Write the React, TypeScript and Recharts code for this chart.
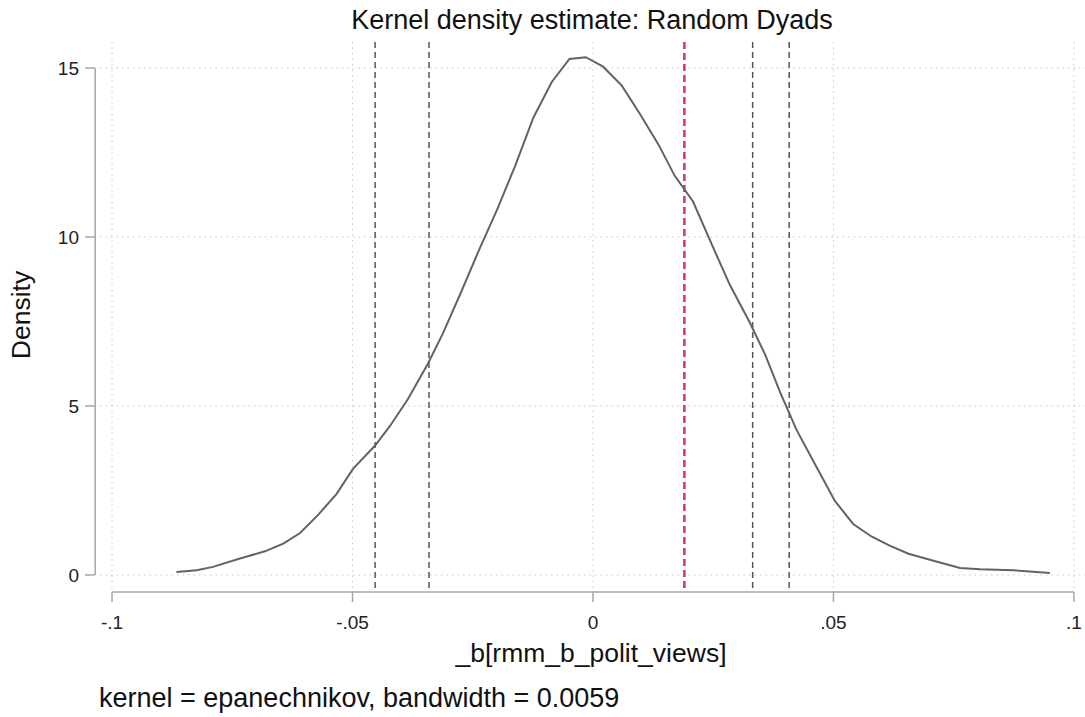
import React from "react";
import {
  LineChart,
  Line,
  XAxis,
  YAxis,
  CartesianGrid,
  ReferenceLine,
} from "recharts";

// kde curve
const densX = [
  -0.0866, -0.0824, -0.079, -0.0734, -0.0682, -0.0644, -0.0609, -0.0572, -0.0533, -0.0499,
  -0.0453, -0.0422, -0.0385, -0.0343, -0.0312, -0.0273, -0.0235, -0.02, -0.0162, -0.0124,
  -0.0086, -0.0049, -0.0015, 0.0021, 0.006, 0.0098, 0.0136, 0.017, 0.0208, 0.0247,
  0.0285, 0.0326, 0.0358, 0.0389, 0.0423, 0.0465, 0.0503, 0.0541, 0.0579, 0.0617,
  0.0656, 0.0708, 0.0763, 0.0805, 0.0874, 0.095,
];
const densY = [
  0.09, 0.14, 0.24, 0.49, 0.7, 0.93, 1.24, 1.77, 2.4, 3.14,
  3.83, 4.41, 5.2, 6.26, 7.15, 8.41, 9.68, 10.79, 12.1, 13.53,
  14.58, 15.27, 15.32, 15.04, 14.48, 13.63, 12.74, 11.81, 11.05, 9.78,
  8.57, 7.47, 6.52, 5.41, 4.3, 3.19, 2.19, 1.51, 1.14, 0.87,
  0.63, 0.42, 0.21, 0.17, 0.14, 0.06,
];

// vertical marker lines
const grayLines = [-0.0453, -0.0341, 0.0332, 0.0408];
const redLine = 0.019;

// axes
const xTicks = [-0.1, -0.05, 0, 0.05, 0.1];
const xTickLabels = ["-.1", "-.05", "0", ".05", ".1"];
const yTicks = [0, 5, 10, 15];
const yTickLabels = ["0", "5", "10", "15"];

const data = densX.map((x, i) => ({ x, y: densY[i] }));

const FONT = "Arial, 'Liberation Sans', sans-serif";
const AXIS_COLOR = "#a6a6a6";

// Stata leaves a gap between plot region and axes
const xDomain = [-0.1025, 0.1023];
const yDomain = [-0.385, 15.77];
const xAxisAt = -0.5; // density units, just below plot region
const yAxisAt = -0.1035;

const closest = (arr: number[], v: number) => {
  let best = 0;
  arr.forEach((t, i) => {
    if (Math.abs(t - v) < Math.abs(arr[best] - v)) best = i;
  });
  return best;
};

const renderXTick = (props: any) => {
  const { x, payload } = props;
  const i = closest(xTicks, payload.value);
  return (
    <g key={`xt-${i}`}>
      <line x1={x} x2={x} y1={592} y2={602} stroke={AXIS_COLOR} strokeWidth={1.5} />
      <text x={x} y={629} textAnchor="middle" fontSize={19} fontFamily={FONT} fill="#222">
        {xTickLabels[i]}
      </text>
    </g>
  );
};

const renderYTick = (props: any) => {
  const { y, payload } = props;
  const i = closest(yTicks, payload.value);
  return (
    <g key={`yt-${i}`}>
      <line x1={85} x2={95} y1={y} y2={y} stroke={AXIS_COLOR} strokeWidth={1.5} />
      <text x={79} y={y + 7} textAnchor="end" fontSize={19} fontFamily={FONT} fill="#222">
        {yTickLabels[i]}
      </text>
    </g>
  );
};

export default function App() {
  return (
    <div style={{ position: "absolute", left: 0, top: 0, width: 1085, height: 717, background: "#fff" }}>
      <LineChart
        width={1085}
        height={717}
        data={data}
        margin={{ top: 42, right: 0, bottom: 128, left: 99 }}
      >
        <CartesianGrid
          stroke="#c8c8c8"
          strokeDasharray="1.5 4"
          horizontalValues={yTicks}
          verticalValues={xTicks}
        />
        <XAxis
          dataKey="x"
          type="number"
          domain={xDomain}
          allowDataOverflow
          ticks={xTicks}
          interval={0}
          height={1}
          axisLine={false}
          tickLine={false}
          tick={renderXTick}
        />
        <YAxis
          type="number"
          domain={yDomain}
          allowDataOverflow
          ticks={yTicks}
          interval={0}
          width={1}
          axisLine={false}
          tickLine={false}
          tick={renderYTick}
        />
        <ReferenceLine
          segment={[{ x: -0.1, y: xAxisAt }, { x: 0.1, y: xAxisAt }]}
          stroke={AXIS_COLOR}
          strokeWidth={1.5}
          ifOverflow="visible"
        />
        <ReferenceLine
          segment={[{ x: yAxisAt, y: 0 }, { x: yAxisAt, y: 15 }]}
          stroke={AXIS_COLOR}
          strokeWidth={1.5}
          ifOverflow="visible"
        />
        {grayLines.map((v) => (
          <ReferenceLine key={v} x={v} stroke="#555" strokeWidth={1.5} strokeDasharray="6 4" />
        ))}
        <ReferenceLine x={redLine} stroke="#d8345f" strokeWidth={2.5} strokeDasharray="7 4" />
        <Line
          type="linear"
          dataKey="y"
          stroke="#636363"
          strokeWidth={2}
          dot={false}
          isAnimationActive={false}
        />
      </LineChart>
      <svg
        width={1085}
        height={717}
        style={{ position: "absolute", left: 0, top: 0, pointerEvents: "none" }}
      >
        <text x={592} y={29} textAnchor="middle" fontSize={27} fontFamily={FONT} fill="#111">
          Kernel density estimate: Random Dyads
        </text>
        <text x={591} y={662} textAnchor="middle" fontSize={26.5} fontFamily={FONT} fill="#111">
          _b[rmm_b_polit_views]
        </text>
        <text
          transform="translate(30,315) rotate(-90)"
          textAnchor="middle"
          fontSize={26.5}
          fontFamily={FONT}
          fill="#111"
        >
          Density
        </text>
        <text x={99} y={707} fontSize={27} fontFamily={FONT} fill="#111">
          kernel = epanechnikov, bandwidth = 0.0059
        </text>
      </svg>
    </div>
  );
}
